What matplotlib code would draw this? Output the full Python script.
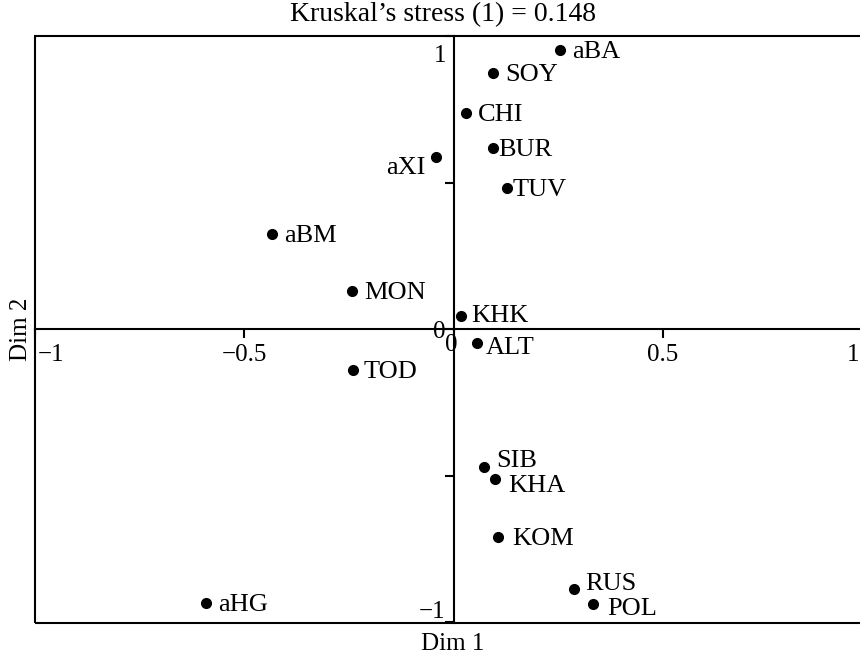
import matplotlib
matplotlib.use("Agg")
import matplotlib.pyplot as plt
from matplotlib.patches import Rectangle
from matplotlib.transforms import ScaledTranslation

plt.rcParams['font.family'] = ['Liberation Serif', 'DejaVu Serif']
plt.rcParams['font.size'] = 18

# ---- data ----
names = ["aBA", "SOY", "CHI", "BUR", "aXI", "TUV", "aBM", "MON", "TOD",
         "KHK", "ALT", "SIB", "KHA", "KOM", "RUS", "POL", "aHG"]
dim1 = [0.255, 0.095, 0.029, 0.095, -0.041, 0.129, -0.434, -0.243, -0.239,
        0.017, 0.057, 0.072, 0.098, 0.107, 0.289, 0.334, -0.592]
dim2 = [0.952, 0.874, 0.737, 0.618, 0.587, 0.481, 0.324, 0.130, -0.140,
        0.044, -0.048, -0.471, -0.512, -0.710, -0.887, -0.939, -0.935]
xticks = [-1, -0.5, 0, 0.5, 1]
xticklabels = ["\u22121", "\u22120.5", "0", "0.5", "1"]
yticks = [-1, -0.5, 0, 0.5, 1]
yticklabels = ["\u22121", "", "0", "", "1"]
title = "Kruskal\u2019s stress (1) = 0.148"

# label offsets in pixels (dx, dy, ha)
label_off = {"BUR": (5, 0, 'left'), "TUV": (5, 0, 'left'), "TOD": (10, 0, 'left'),
             "ALT": (8, -3, 'left'), "KHK": (11, 2, 'left'), "SIB": (13, 8, 'left'),
             "KHA": (14, -5, 'left'), "KOM": (14, 0, 'left'), "RUS": (11, 7, 'left'),
             "POL": (14, -3, 'left'), "aXI": (-11, -9, 'right')}

W, H = 860, 654
fig = plt.figure(figsize=(W / 100, H / 100), dpi=100)
L, R, T, B = 35, 872, 36, 623
ax = fig.add_axes([L / W, (H - B) / H, (R - L) / W, (B - T) / H])
ax.set_xlim(-1.0, 1.0)
ax.set_ylim(-1.003, 1.0)

lw = 1.5
for s in ['top', 'right']:
    ax.spines[s].set_visible(False)
ax.spines['left'].set_position(('data', 0))
ax.spines['bottom'].set_position(('data', 0))
ax.spines['left'].set_linewidth(lw)
ax.spines['bottom'].set_linewidth(lw)
ax.add_patch(Rectangle((0, 0), 1, 1, transform=ax.transAxes, fill=False,
                       lw=lw, edgecolor='black', clip_on=False, zorder=3))

ax.set_xticks(xticks, xticklabels)
ax.set_yticks(yticks, yticklabels)
ax.tick_params(axis='both', direction='out', length=6.5, width=lw, labelsize=18)
ax.tick_params(axis='x', pad=4)
ax.tick_params(axis='y', pad=-1)

def shift(lbl, dx, dy):
    lbl.set_transform(lbl.get_transform() + ScaledTranslation(dx / 100, dy / 100, fig.dpi_scale_trans))

xl = ax.get_xticklabels()
xl[0].set_ha('left'); shift(xl[0], 3, 0)
shift(xl[2], -2, 10)
xl[4].set_ha('right'); shift(xl[4], -13, 0)
yl = ax.get_yticklabels()
yl[4].set_va('top'); shift(yl[4], 0, -9)
yl[0].set_va('bottom'); shift(yl[0], 0, -1)

ax.plot(dim1, dim2, 'o', color='black', ms=7, zorder=4, clip_on=False)
for n, x, y in zip(names, dim1, dim2):
    dx, dy, ha = label_off.get(n, (12, 0, 'left'))
    ax.annotate(n, (x, y), xytext=(dx, dy - 2), textcoords='offset pixels',
                ha=ha, va='center', fontsize=19)

ax.set_xlabel("Dim 1", fontsize=18)
ax.xaxis.set_label_coords((453 - L) / (R - L), -10 / (B - T))
ax.set_ylabel("Dim 2", fontsize=18)
ax.yaxis.label.set_va('center')
ax.yaxis.set_label_coords((21 - L) / (R - L), 0.5)

fig.text(443 / W, 1 - 21 / H, title, ha='center', va='baseline', fontsize=20)

fig.savefig("out.png", dpi=100)
